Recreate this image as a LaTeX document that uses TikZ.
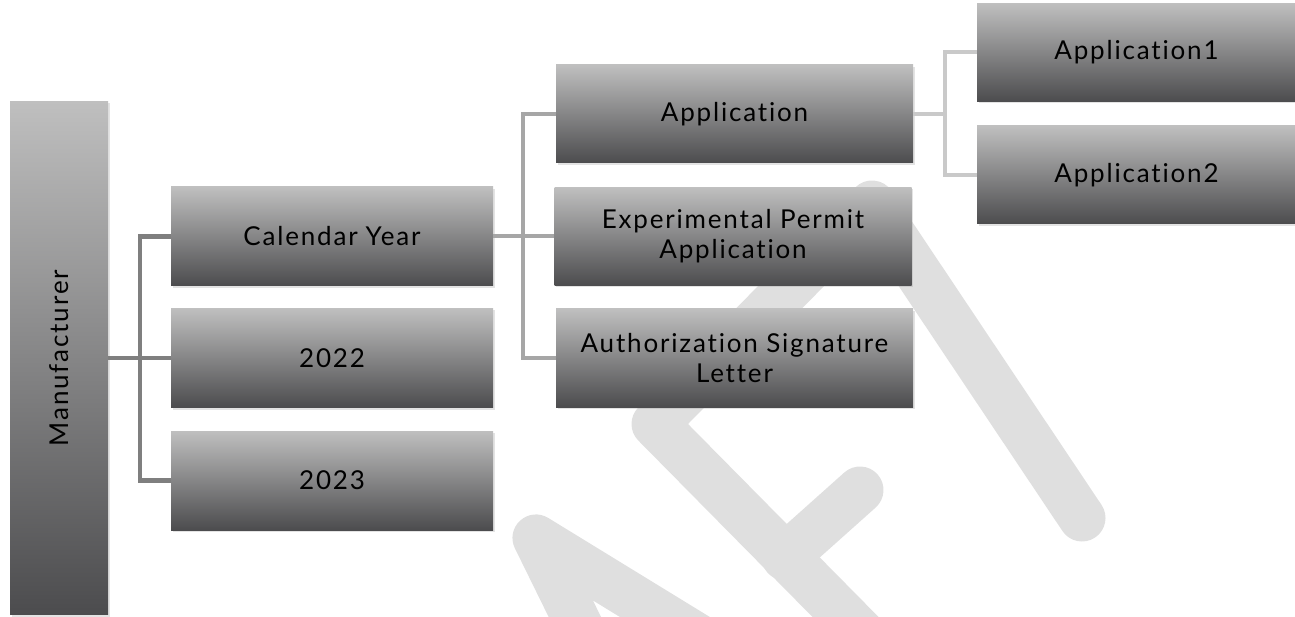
\documentclass[tikz,border=0pt]{standalone}
\usepackage{fontspec}
\setmainfont{Lato}[LetterSpace=7, Ligatures=NoCommon]
\usetikzlibrary{shadows}

\definecolor{boxtop}{HTML}{BFBFBF}
\definecolor{boxbot}{HTML}{4C4C4E}
\definecolor{linkA}{HTML}{7F7F7F}
\definecolor{linkB}{HTML}{A6A6A6}
\definecolor{linkC}{HTML}{C9C9C9}
\definecolor{wmgray}{HTML}{DFDFDF}

\begin{document}
\begin{tikzpicture}[x=1pt,y=-1pt,
  tile/.style={rectangle, inner sep=0pt, draw=none,
    top color=boxtop, bottom color=boxbot,
    drop shadow={shadow xshift=1.5pt, shadow yshift=-2pt, opacity=0.22},
    font=\fontsize{26}{30}\selectfont, align=center, text=black},
  lvlone/.style={tile, minimum width=322pt, minimum height=99pt},
  lvltwo/.style={tile, minimum width=357pt, minimum height=98pt},
  lvlthree/.style={tile, minimum width=322pt, minimum height=98pt},
  linkone/.style={draw=linkA, line width=4.5pt},
  linktwo/.style={draw=linkB, line width=4pt},
  linkthree/.style={draw=linkC, line width=4pt},
  wm/.style={draw=wmgray, line width=47pt, line cap=round, line join=round}]

\useasboundingbox (0,0) rectangle (1295,617);

% background strokes
\begin{scope}
  \clip (0,0) rectangle (1295,617);
  \draw[wm] (596,660) -- (536,538) -- (722,652);
  \draw[wm] (888,660) -- (655,424) -- (872,204) -- (1082,518);
  \draw[wm] (785,557) -- (860,490);
\end{scope}

% root
\node[tile, minimum width=98pt, minimum height=513pt] (mfr) at (59,358) {};
\node[rotate=90, font=\fontsize{26}{30}\selectfont] (mfrtext) at (mfr.center) {Manufacturer};

% first level
\node[lvlone] (cal) at (332,236.5) {Calendar\hspace{0.3em}Year};
\node[lvlone] (y22) at (332,358) {2022};
\node[lvlone] (y23) at (332,480.5) {2023};

% second level
\node[lvltwo] (app)  at (734.5,114)   {Application};
\node[lvltwo] (exp)  at (733,236.5)   {Experimental Permit\\Application};
\node[lvltwo] (auth) at (734.5,358)   {Authorization Signature\\Letter};

% third level
\begin{scope}
  \clip (0,0) rectangle (1295,617);
  \node[lvlthree] (app1) at (1138,52.5) {\hspace*{-3pt}Application1};
  \node[lvlthree] (app2) at (1138,175)  {\hspace*{-3pt}Application2};
\end{scope}

% junction points
\coordinate (j1) at (140,358);
\coordinate (j2) at (523,236.5);
\coordinate (j3) at (945,114);

% connectors
\draw[linkone] (mfr.east) -- (y22.west);
\draw[linkone] (cal.west) -| (j1) |- (y23.west);
\draw[linktwo] (cal.east) -- (exp.west);
\draw[linktwo] (app.west) -| (j2) |- (auth.west);
\draw[linkthree] (app.east) -- (j3);
\draw[linkthree] (app1.west) -| (j3) |- (app2.west);
\end{tikzpicture}
\end{document}
